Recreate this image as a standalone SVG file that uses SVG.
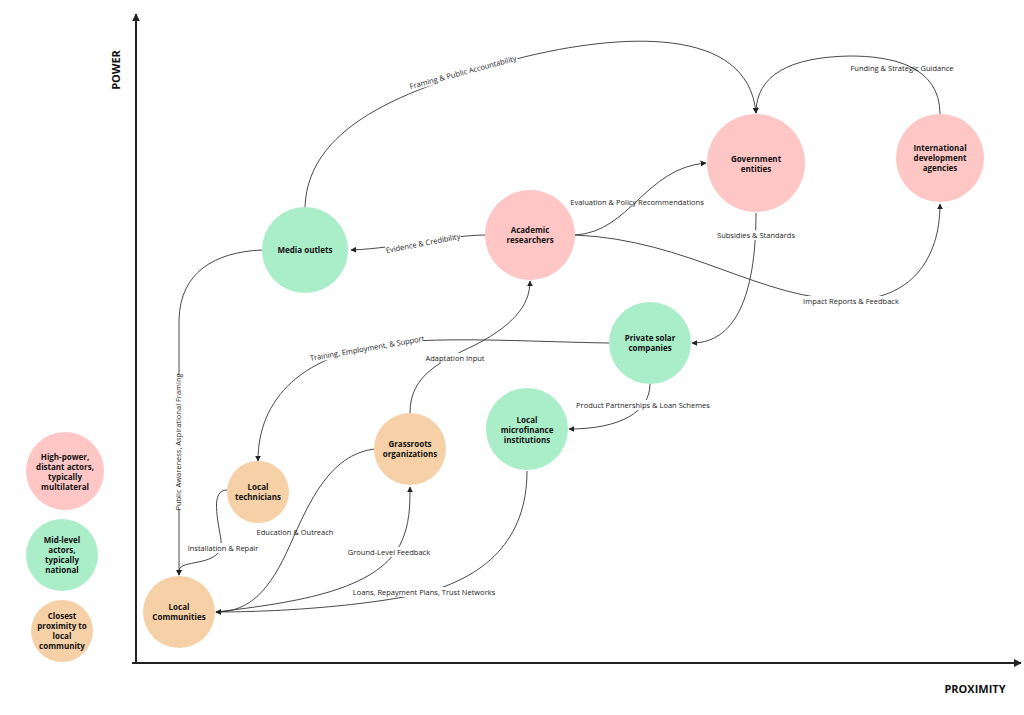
<svg xmlns="http://www.w3.org/2000/svg" width="1024" height="715" viewBox="0 0 1024 715">
<style>
.n text{font-family:"Open Sans","Noto Sans",sans-serif;font-size:8px;font-weight:bold;fill:#111;text-anchor:middle}
.pink{fill:#ffc6c6}
.green{fill:#aaedc9}
.orange{fill:#f6d0a6}
.e{fill:none;stroke:#333;stroke-width:0.9}
.lb{font-family:"Open Sans","Noto Sans",sans-serif;font-size:7.5px;fill:#222;text-anchor:middle;dominant-baseline:central}
.bg{fill:#fff}
.ax{stroke:#222;stroke-width:2}
.axl{font-family:"Open Sans","Noto Sans",sans-serif;font-size:11px;font-weight:bold;fill:#111;text-anchor:middle;dominant-baseline:central}
</style>
<defs>
<marker id="ar" viewBox="0 0 10 10" refX="9" refY="5" markerWidth="6" markerHeight="6" orient="auto" markerUnits="userSpaceOnUse">
<path d="M0,0 L10,5 L0,10 z" fill="#222"/>
</marker>
<marker id="axa" viewBox="0 0 10 10" refX="9" refY="5" markerWidth="8" markerHeight="8" orient="auto" markerUnits="userSpaceOnUse">
<path d="M0,0 L10,5 L0,10 z" fill="#222"/>
</marker>
</defs>
<rect width="1024" height="715" fill="#fff"/>

<g id="axes">
<line class="ax" x1="136" y1="664" x2="136" y2="14" marker-end="url(#axa)"/>
<line class="ax" x1="132" y1="663" x2="1021" y2="663" marker-end="url(#axa)"/>
<text class="axl" transform="translate(115,70) rotate(-90)">POWER</text>
<text class="axl" x="975" y="688">PROXIMITY</text>
</g>

<g id="connectors">
<path class="e" d="M305,207 C308,120 420,85 520,58 C620,33 748,25 756,113" marker-end="url(#ar)"/>
<path class="e" d="M940,114 C940,65 890,56 850,56 C790,57 756,75 756,113" marker-end="url(#ar)"/>
<path class="e" d="M486,235 C450,235 400,248 351,250" marker-end="url(#ar)"/>
<path class="e" d="M575,235 C630,232 645,168 706,163" marker-end="url(#ar)"/>
<path class="e" d="M575,235 C690,240 760,300 850,300 C910,300 940,260 940,204" marker-end="url(#ar)"/>
<path class="e" d="M756,213 C756,285 740,343 692,343" marker-end="url(#ar)"/>
<path class="e" d="M609,343 C540,342 460,337 400,342 C300,352 258,400 258,461" marker-end="url(#ar)"/>
<path class="e" d="M410,413 C410,375 440,362 475,345 C520,322 530,300 530,281" marker-end="url(#ar)"/>
<path class="e" d="M650,384 C650,412 620,429 569,429" marker-end="url(#ar)"/>
<path class="e" d="M262,250 C215,252 180,272 179,320 L179,575" marker-end="url(#ar)"/>
<path class="e" d="M227,490 C210,490 218,520 221,540 C224,565 190,560 181,567 C179,569 179,572 179,575" marker-end="url(#ar)"/>
<path class="e" d="M374,449 C330,455 310,500 290,545 C270,590 250,612 216,612" marker-end="url(#ar)"/>
<path class="e" d="M216,612 C300,602 375,590 400,545 C410,525 410,505 410,487" marker-end="url(#ar)"/>
<path class="e" d="M527,471 C527,540 485,578 420,594 C340,610 250,612 216,612" marker-end="url(#ar)"/>

<g transform="translate(463,72) rotate(-15)"><rect class="bg" x="-56" y="-5" width="112" height="10"/><text class="lb">Framing &amp; Public Accountability</text></g>
<text class="lb" x="902" y="68">Funding &amp; Strategic Guidance</text>
<g transform="translate(423,243) rotate(-11)"><rect class="bg" x="-38" y="-5" width="76" height="10"/><text class="lb">Evidence &amp; Credibility</text></g>
<text class="lb" x="637" y="202">Evaluation &amp; Policy Recommendations</text>
<rect class="bg" x="803" y="296" width="97" height="10"/>
<text class="lb" x="851" y="301">Impact Reports &amp; Feedback</text>
<rect class="bg" x="717" y="230" width="78" height="10"/>
<text class="lb" x="756" y="235">Subsidies &amp; Standards</text>
<g transform="translate(367,348) rotate(-10)"><rect class="bg" x="-57" y="-5" width="114" height="10"/><text class="lb">Training, Employment, &amp; Support</text></g>
<rect class="bg" x="425" y="353" width="60" height="10"/>
<text class="lb" x="455" y="358">Adaptation Input</text>
<rect class="bg" x="579" y="400" width="129" height="10"/>
<text class="lb" x="643" y="405">Product Partnerships &amp; Loan Schemes</text>
<g transform="translate(178,442) rotate(-90)"><rect class="bg" x="-67" y="-5" width="134" height="10"/><text class="lb">Public Awareness, Aspirational Framing</text></g>
<rect class="bg" x="188" y="543" width="70" height="10"/>
<text class="lb" x="223" y="548">Installation &amp; Repair</text>
<text class="lb" x="295" y="532">Education &amp; Outreach</text>
<rect class="bg" x="349" y="547" width="80" height="10"/>
<text class="lb" x="389" y="552">Ground-Level Feedback</text>
<rect class="bg" x="355" y="587" width="139" height="10"/>
<text class="lb" x="424" y="592">Loans, Repayment Plans, Trust Networks</text>
</g>

<g id="government" class="n"><circle class="pink" cx="756" cy="163" r="49"/><text x="756" y="162">Government</text><text x="756" y="172">entities</text></g>
<g id="international" class="n"><circle class="pink" cx="940" cy="158" r="44"/><text x="940" y="151">International</text><text x="940" y="161">development</text><text x="940" y="171">agencies</text></g>
<g id="academic" class="n"><circle class="pink" cx="530" cy="235" r="45"/><text x="530" y="233">Academic</text><text x="530" y="243">researchers</text></g>
<g id="media" class="n"><circle class="green" cx="305" cy="250" r="43"/><text x="305" y="253">Media outlets</text></g>
<g id="solar" class="n"><circle class="green" cx="650" cy="343" r="41"/><text x="650" y="341">Private solar</text><text x="650" y="351">companies</text></g>
<g id="microfinance" class="n"><circle class="green" cx="527" cy="429" r="41"/><text x="527" y="423">Local</text><text x="527" y="433">microfinance</text><text x="527" y="443">institutions</text></g>
<g id="grassroots" class="n"><circle class="orange" cx="410" cy="449" r="36"/><text x="410" y="447">Grassroots</text><text x="410" y="457">organizations</text></g>
<g id="technicians" class="n"><circle class="orange" cx="258" cy="492" r="31"/><text x="258" y="490">Local</text><text x="258" y="500">technicians</text></g>
<g id="communities" class="n"><circle class="orange" cx="179" cy="612" r="36"/><text x="179" y="610">Local</text><text x="179" y="620">Communities</text></g>

<g id="legend-high" class="n"><circle class="pink" cx="65" cy="471" r="39"/><text x="65" y="460">High-power,</text><text x="65" y="470">distant actors,</text><text x="65" y="480">typically</text><text x="65" y="490">multilateral</text></g>
<g id="legend-mid" class="n"><circle class="green" cx="62" cy="555" r="36"/><text x="62" y="543">Mid-level</text><text x="62" y="553">actors,</text><text x="62" y="563">typically</text><text x="62" y="573">national</text></g>
<g id="legend-close" class="n"><circle class="orange" cx="62" cy="631" r="31"/><text x="62" y="619">Closest</text><text x="62" y="629">proximity to</text><text x="62" y="639">local</text><text x="62" y="649">community</text></g>
</svg>
